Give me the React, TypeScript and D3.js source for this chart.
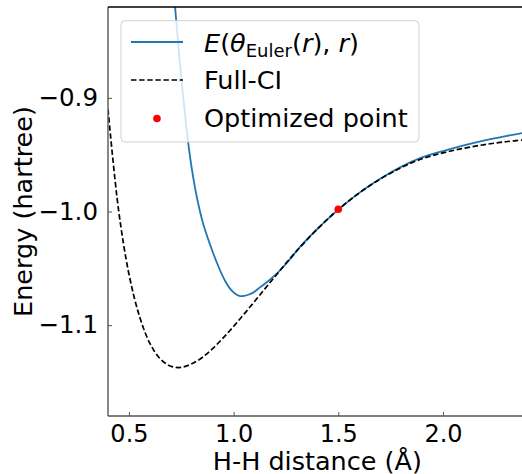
import { useRef, useEffect } from "react";
import * as d3 from "d3";

// bond length (Å) and energies (hartree)
const fciR = [0.4, 0.45, 0.5, 0.55, 0.6, 0.65, 0.7, 0.75, 0.8, 0.85, 0.9, 0.95, 1.0, 1.05, 1.1, 1.15, 1.2, 1.25, 1.3, 1.4, 1.5, 1.6, 1.7, 1.8, 1.9, 2.0, 2.1, 2.2, 2.3, 2.4];
const fciE = [-0.91, -0.998, -1.055, -1.092, -1.116, -1.1298, -1.1362, -1.1372, -1.1341, -1.1285, -1.1206, -1.1113, -1.1011, -1.0903, -1.0792, -1.0679, -1.0567, -1.0456, -1.035, -1.0154, -0.9983, -0.9837, -0.9715, -0.9614, -0.9536, -0.9484, -0.9443, -0.9411, -0.9386, -0.9367];

const eulerR = [0.7, 0.72, 0.744, 0.763, 0.784, 0.8, 0.824, 0.855, 0.903, 0.93, 0.959, 0.98, 1.0, 1.015, 1.031, 1.05, 1.07, 1.095, 1.126, 1.166, 1.206, 1.26, 1.317, 1.4, 1.5, 1.6, 1.7, 1.8, 1.9, 2.0, 2.1, 2.2, 2.3, 2.4];
const eulerE = [-0.775, -0.819, -0.871, -0.906, -0.941, -0.962, -0.987, -1.011, -1.037, -1.0495, -1.061, -1.0672, -1.0712, -1.0733, -1.0745, -1.0743, -1.0733, -1.0712, -1.0668, -1.0612, -1.0547, -1.044, -1.0312, -1.0154, -0.9983, -0.9836, -0.9712, -0.9607, -0.9524, -0.9468, -0.9418, -0.9374, -0.9336, -0.9302];

const optR = [1.5];
const optE = [-0.998];

const xTicks = [0.5, 1.0, 1.5, 2.0];
const yTicks = [-1.1, -1.0, -0.9];

const W = 522;
const H = 474;
const FONT = "DejaVu Sans";

function App() {
  const ref = useRef<SVGSVGElement | null>(null);

  useEffect(() => {
    if (!ref.current) return;
    const svg = d3.select(ref.current).html("");

    const left = 108, right = 526.7, top = 7, bottom = 416;
    const x = d3.scaleLinear().domain([0.4, 2.4]).range([left, right]);
    const y = d3.scaleLinear().domain([-1.18, -0.82]).range([bottom, top]);

    svg.append("defs").append("clipPath").attr("id", "plotclip")
      .append("rect").attr("x", left).attr("y", top)
      .attr("width", right - left).attr("height", bottom - top);

    const plot = svg.append("g").attr("clip-path", "url(#plotclip)");

    const line = d3.line<[number, number]>()
      .curve(d3.curveCatmullRom.alpha(0.5))
      .x((d) => x(d[0]))
      .y((d) => y(d[1]));

    const eulerPts = eulerR.map((r, i) => [r, eulerE[i]] as [number, number]);
    const fciPts = fciR.map((r, i) => [r, fciE[i]] as [number, number]);

    plot.append("path").datum(eulerPts)
      .attr("fill", "none").attr("stroke", "#1f77b4").attr("stroke-width", 1.8)
      .attr("d", line);
    plot.append("path").datum(fciPts)
      .attr("fill", "none").attr("stroke", "#000").attr("stroke-width", 1.7)
      .attr("stroke-dasharray", "5.5,2.6")
      .attr("d", line);
    plot.selectAll("circle.opt").data(optR).enter().append("circle")
      .attr("class", "opt")
      .attr("cx", (d) => x(d)).attr("cy", (d, i) => y(optE[i]))
      .attr("r", 3.8).attr("fill", "#ff0000");

    // spines
    svg.append("line").attr("x1", left).attr("x2", left).attr("y1", top).attr("y2", bottom)
      .attr("stroke", "#555").attr("stroke-width", 1.4);
    svg.append("line").attr("x1", left).attr("x2", W).attr("y1", bottom).attr("y2", bottom)
      .attr("stroke", "#555").attr("stroke-width", 1.4);
    svg.append("line").attr("x1", left).attr("x2", W).attr("y1", top).attr("y2", top)
      .attr("stroke", "#000").attr("stroke-width", 1.4);

    // axes (ticks pointing in)
    const fmt = d3.format(".1f");
    const xa = svg.append("g").attr("transform", `translate(0,${bottom})`)
      .call(d3.axisBottom(x).tickValues(xTicks).tickFormat((d: any) => fmt(d)).tickSize(-4).tickPadding(9));
    xa.select(".domain").remove();
    xa.selectAll(".tick line").attr("stroke", "#555");
    xa.selectAll("text").attr("font-family", FONT).attr("font-size", 24).attr("fill", "#000");

    const ya = svg.append("g").attr("transform", `translate(${left},0)`)
      .call(d3.axisLeft(y).tickValues(yTicks).tickFormat((d: any) => fmt(d)).tickSize(-4).tickPadding(10));
    ya.select(".domain").remove();
    ya.selectAll(".tick line").attr("stroke", "#555");
    ya.selectAll("text").attr("font-family", FONT).attr("font-size", 24.5).attr("fill", "#000");

    // axis titles
    svg.append("text").attr("x", (left + right) / 2).attr("y", 470)
      .attr("text-anchor", "middle").attr("font-family", FONT).attr("font-size", 25.5)
      .text("H-H distance (Å)");
    svg.append("text").attr("transform", `translate(32,${(top + bottom) / 2}) rotate(-90)`)
      .attr("text-anchor", "middle").attr("font-family", FONT).attr("font-size", 25.5)
      .text("Energy (hartree)");

    // legend
    const lg = svg.append("g");
    lg.append("rect").attr("x", 121).attr("y", 20.7).attr("width", 298).attr("height", 121.3)
      .attr("rx", 4).attr("fill", "#fff").attr("fill-opacity", 0.8)
      .attr("stroke", "#d0d0d0").attr("stroke-width", 1);
    lg.append("line").attr("x1", 131).attr("x2", 183).attr("y1", 42).attr("y2", 42)
      .attr("stroke", "#1f77b4").attr("stroke-width", 1.8);
    lg.append("line").attr("x1", 131).attr("x2", 183).attr("y1", 80).attr("y2", 80)
      .attr("stroke", "#000").attr("stroke-width", 1.7).attr("stroke-dasharray", "5.5,2.6");
    lg.append("circle").attr("cx", 157).attr("cy", 118.5).attr("r", 3.8).attr("fill", "#ff0000");

    const t1 = lg.append("text").attr("x", 204).attr("y", 51.7)
      .attr("font-family", FONT).attr("font-size", 25.5);
    t1.append("tspan").attr("font-style", "italic").text("E");
    t1.append("tspan").text("(");
    t1.append("tspan").attr("font-style", "italic").text("θ");
    t1.append("tspan").attr("font-size", 18).attr("dy", 5).text("Euler");
    t1.append("tspan").attr("dy", -5).text("(");
    t1.append("tspan").attr("font-style", "italic").text("r");
    t1.append("tspan").text("), ");
    t1.append("tspan").attr("font-style", "italic").text("r");
    t1.append("tspan").text(")");

    lg.append("text").attr("x", 204).attr("y", 89.3)
      .attr("font-family", FONT).attr("font-size", 25.5).text("Full-CI");
    lg.append("text").attr("x", 204).attr("y", 126.7)
      .attr("font-family", FONT).attr("font-size", 25.5).text("Optimized point");
  }, []);

  return (
    <svg ref={ref} width={W} height={H}
      style={{ position: "absolute", left: 0, top: 0, background: "#fff" }} />
  );
}

export default App;
